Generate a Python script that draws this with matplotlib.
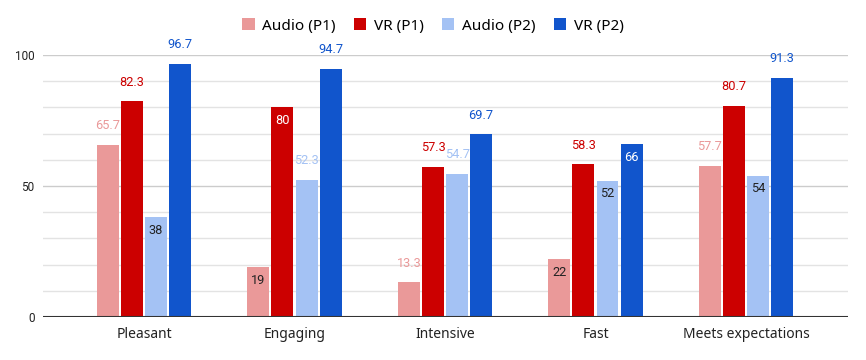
import numpy as np
import matplotlib.pyplot as plt
from matplotlib.patches import Patch

# data
categories = ['Pleasant', 'Engaging', 'Intensive', 'Fast', 'Meets expectations']
series = ['Audio (P1)', 'VR (P1)', 'Audio (P2)', 'VR (P2)']
audio_p1 = [65.7, 19, 13.3, 22, 57.7]
vr_p1 = [82.3, 80, 57.3, 58.3, 80.7]
audio_p2 = [38, 52.3, 54.7, 52, 54]
vr_p2 = [96.7, 94.7, 69.7, 66, 91.3]

colors = ['#ea9999', '#cc0000', '#a4c2f4', '#1155cc']
inside_text = ['#222222', 'white', '#222222', 'white']

fig = plt.figure(figsize=(8.66, 3.6), dpi=100)
ax = fig.add_axes([43 / 866, 1 - 317 / 360, (848 - 43) / 866, (317 - 55) / 360])

x = np.arange(len(categories))
pitch = 0.16
width = 0.146
px_per_unit = 262 / 100  # vertical pixels per data unit

for i, vals in enumerate([audio_p1, vr_p1, audio_p2, vr_p2]):
    xs = x + (i - 1.5) * pitch
    ax.bar(xs, vals, width=width, color=colors[i], zorder=3, label=series[i])
    for xi, v in zip(xs, vals):
        lab = f'{v:g}'
        if float(v).is_integer():
            # whole numbers sit inside the bar top
            ax.text(xi, v - 13 / px_per_unit, lab, ha='center', va='center',
                    color=inside_text[i], fontsize=9.2, family='Roboto', zorder=4)
        else:
            ax.text(xi, v + 19 / px_per_unit, lab, ha='center', va='center',
                    color=colors[i], fontsize=9.2, family='Roboto', zorder=4,
                    clip_on=False)

ax.set_xlim(-0.671, 4.678)
ax.set_ylim(0, 100)

# gridlines
for g in range(10, 101, 10):
    ax.axhline(g, color='#cccccc' if g % 50 == 0 else '#e3e3e3', lw=1, zorder=1)
ax.axhline(0, color='#333333', lw=1.5, zorder=5)

ax.set_yticks([0, 50, 100])
ax.set_yticklabels(['0', '50', '100'], fontsize=8.5, family='Roboto', color='#222222')
ax.set_xticks(x)
ax.set_xticklabels(categories, fontsize=10, family='Noto Sans', color='#222222')
ax.tick_params(axis='both', length=0)
ax.tick_params(axis='y', pad=6)
ax.tick_params(axis='x', pad=7)
for s in ax.spines.values():
    s.set_visible(False)

handles = [Patch(facecolor=c, edgecolor='none') for c in colors]
fig.legend(handles, series, loc='center', bbox_to_anchor=(433 / 866, 1 - 26 / 360),
           ncol=4, frameon=False, handlelength=0.8, handleheight=0.8,
           handletextpad=0.5, columnspacing=1.2,
           prop={'family': 'Noto Sans', 'size': 11})

fig.savefig('out.png', dpi=100)
